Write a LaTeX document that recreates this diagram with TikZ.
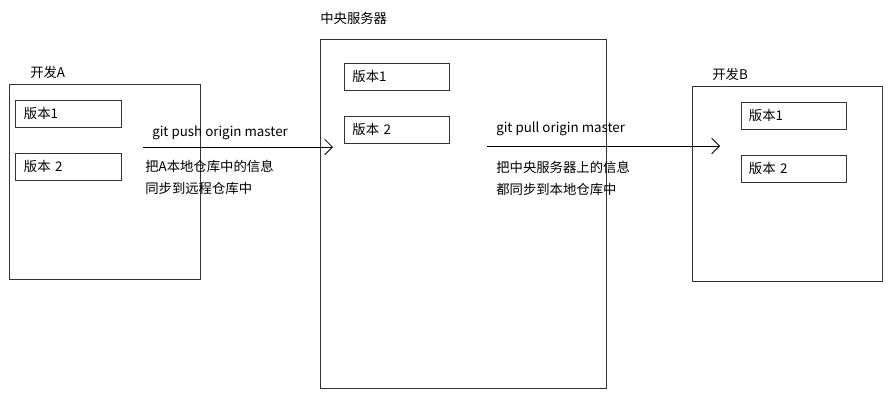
\documentclass[tikz,border=0pt]{standalone}
\usepackage{fontspec}
\setmainfont{Noto Sans CJK SC}
\usetikzlibrary{arrows.meta}
\tikzset{
	repobox/.style={shape=rectangle, draw=black!80, line width=0.7pt, inner sep=0pt},
	verbox/.style={shape=rectangle, draw=black!80, line width=0.7pt, minimum width=2.625cm, minimum height=0.675cm, text width=2.225cm, inner xsep=0.2cm, inner ysep=0pt, align=left},
	tag/.style={anchor=west, inner sep=0pt},
	syncline/.style={line width=0.6pt, -{Straight Barb[length=5.5pt, width=11pt]}}
}
\begin{document}
\begin{tikzpicture}[x=0.025cm, y=-0.025cm, every node/.style={font=\fontsize{9.5}{11}\selectfont}]
	\useasboundingbox (0, 0) rectangle (895, 409);
	% developer A
	\node[repobox, minimum width=4.75cm, minimum height=4.85cm] (devA) at (105, 182){};
	\node[tag] (devAname) at (30, 72){开发A};
	\node[verbox] (devAv1) at (68.5, 113.5){版本1};
	\node[verbox] (devAv2) at (68.5, 166.5){版本 2};
	% central server
	\node[repobox, minimum width=7.125cm, minimum height=8.7cm] (server) at (463.5, 214){};
	\node[tag] (servername) at (320, 18){中央服务器};
	\node[verbox] (serverv1) at (397, 76.5){版本1};
	\node[verbox] (serverv2) at (397, 129.5){版本 2};
	% developer B
	\node[repobox, minimum width=4.75cm, minimum height=4.85cm] (devB) at (787.5, 184){};
	\node[tag] (devBname) at (712, 74){开发B};
	\node[verbox] (devBv1) at (793.5, 115.5){版本1};
	\node[verbox] (devBv2) at (793.5, 168.5){版本 2};
	% push
	\coordinate (pushstart) at (143, 147);
	\coordinate (pushend) at (333, 147);
	\draw[syncline] (pushstart) -- (pushend);
	\node[tag] (pushcmd) at (152, 133){git push origin master};
	\node[tag] (pushnote1) at (145, 166){把A本地仓库中的信息};
	\node[tag] (pushnote2) at (145, 188){同步到远程仓库中};
	% pull
	\coordinate (pullstart) at (487, 146);
	\coordinate (pullend) at (720, 146);
	\draw[syncline] (pullstart) -- (pullend);
	\node[tag] (pullcmd) at (496, 129){git pull origin master};
	\node[tag] (pullnote1) at (496, 167){把中央服务器上的信息};
	\node[tag] (pullnote2) at (496, 189){都同步到本地仓库中};
\end{tikzpicture}
\end{document}
